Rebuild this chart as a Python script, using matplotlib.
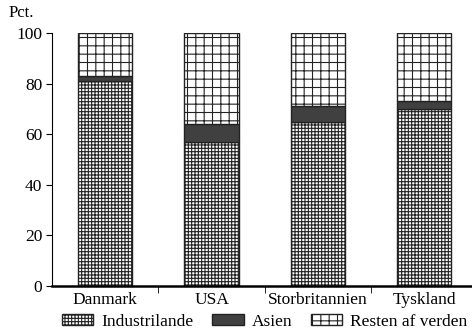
import numpy as np
import matplotlib.pyplot as plt
from matplotlib.patches import Patch

plt.rcParams['font.family'] = ['Liberation Serif', 'DejaVu Serif']
plt.rcParams['hatch.linewidth'] = 0.8

# Data
countries = ['Danmark', 'USA', 'Storbritannien', 'Tyskland']
industri = [81, 57, 65, 70]
asien = [2, 7, 6, 3]
resten = [17, 36, 29, 27]

fig = plt.figure(figsize=(4.72, 3.33), dpi=100)
ax = fig.add_axes([0.110, 0.141, 0.895, 0.760])

x = np.arange(len(countries))
w = 0.51
ind = np.array(industri)
asi = np.array(asien)
res = np.array(resten)

ax.bar(x, ind, w, color='white', edgecolor='#222222', hatch='+++++', linewidth=1)
ax.bar(x, asi, w, bottom=ind, color='#404040', edgecolor='#222222', linewidth=1)
ax.bar(x, res, w, bottom=ind + asi, color='white', edgecolor='#222222', hatch='++', linewidth=1)

ax.set_xlim(-0.5, 3.47)
ax.set_ylim(0, 100)
ax.set_yticks([0, 20, 40, 60, 80, 100])
ax.set_xticks(x)
ax.set_xticklabels(countries)
ax.set_xticks([0.5, 1.5, 2.5], minor=True)
ax.tick_params(axis='x', which='major', length=0, labelsize=12.5, pad=4)
ax.tick_params(axis='x', which='minor', length=5, direction='out')
ax.tick_params(axis='y', labelsize=12.5, length=4, pad=3)
ax.spines['top'].set_visible(False)
ax.spines['right'].set_visible(False)
ax.spines['bottom'].set_linewidth(1.8)

fig.text(0.017, 0.962, 'Pct.', fontsize=12, ha='left', va='center')

handles = [Patch(facecolor='white', edgecolor='#222222', hatch='+++++'),
           Patch(facecolor='#404040', edgecolor='#222222'),
           Patch(facecolor='white', edgecolor='#222222', hatch='++')]
fig.legend(handles, ['Industrilande', 'Asien', 'Resten af verden'],
           loc='center', bbox_to_anchor=(0.561, 0.033), ncol=3, frameon=False,
           fontsize=12.5, handlelength=1.8, handleheight=0.6, columnspacing=1.1,
           handletextpad=0.45, borderpad=0)

fig.savefig('out.png', dpi=100)
